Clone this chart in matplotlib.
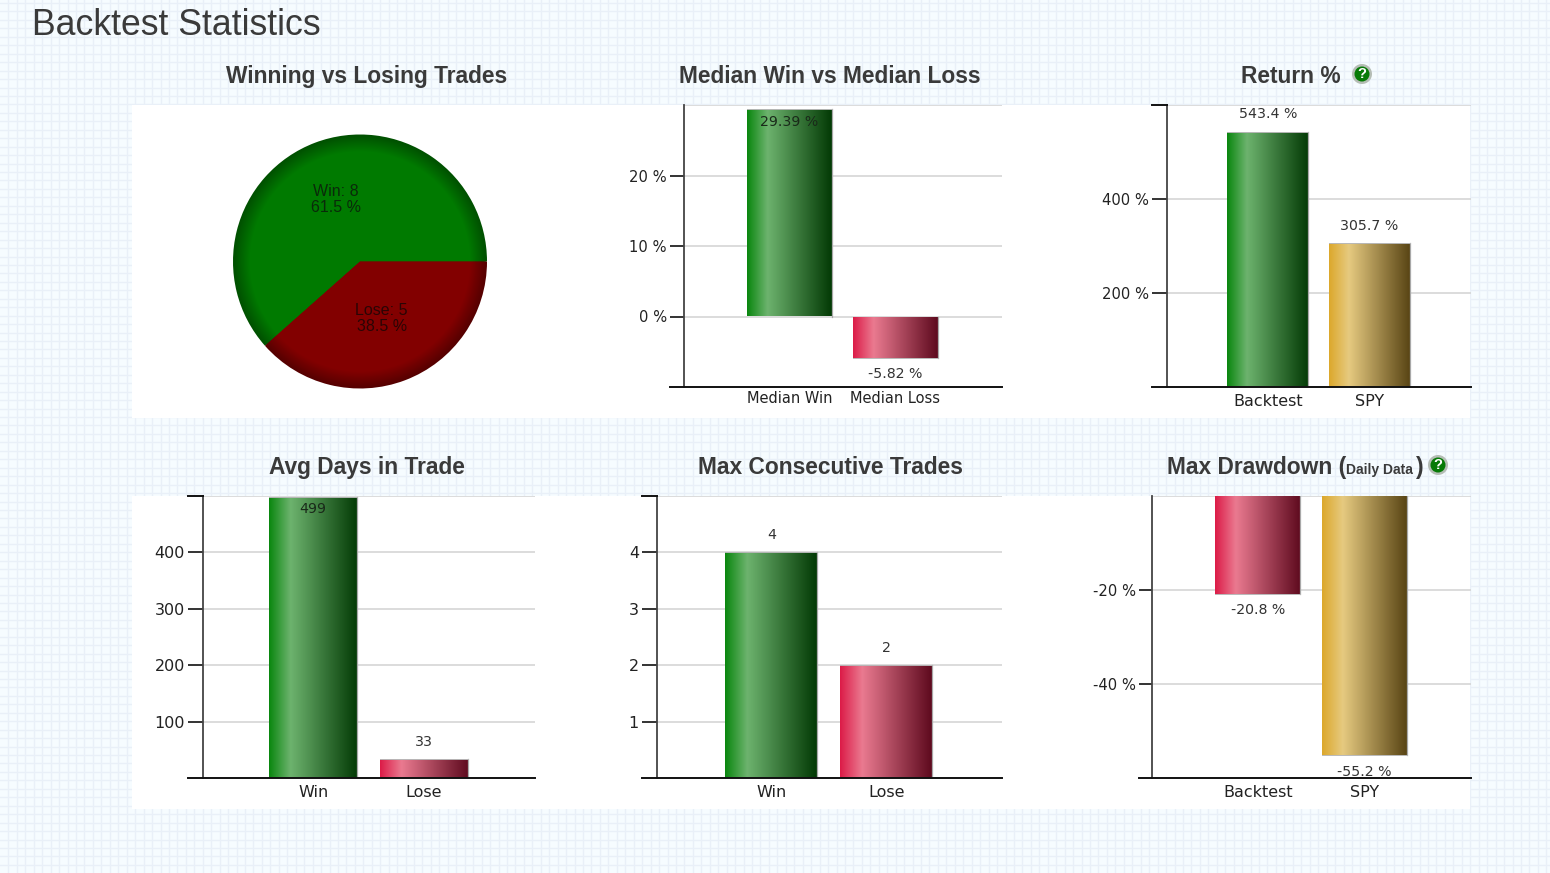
""" Backtest statistics dashboard
"""

import numpy as np
import matplotlib
matplotlib.use('Agg')
import matplotlib.pyplot as plt
from matplotlib.colors import LinearSegmentedColormap, to_rgb
from matplotlib.patches import Circle, Rectangle

W, H = 1550, 873
FONT = 'Liberation Sans'
TICK_FONT = 'DejaVu Sans'
TEXT_DARK = '#3a3a3a'

# Data
pie_labels = ['Win: 8\n61.5 %', 'Lose: 5\n38.5 %']
pie_values = [8, 5]

median_names = ['Median Win', 'Median Loss']
median_values = [29.39, -5.82]
median_labels = ['29.39 %', '-5.82 %']
median_ticks = [0, 10, 20]

return_names = ['Backtest', 'SPY']
return_values = [543.4, 305.7]
return_labels = ['543.4 %', '305.7 %']
return_ticks = [200, 400]

days_names = ['Win', 'Lose']
days_values = [499, 33]
days_labels = ['499', '33']
days_ticks = [100, 200, 300, 400]

consec_names = ['Win', 'Lose']
consec_values = [4, 2]
consec_labels = ['4', '2']
consec_ticks = [1, 2, 3, 4]

drawdown_names = ['Backtest', 'SPY']
drawdown_values = [-20.8, -55.2]
drawdown_labels = ['-20.8 %', '-55.2 %']
drawdown_ticks = [-40, -20]


def gradient(light, mid, dark):
    return LinearSegmentedColormap.from_list(
        'bar', [(0, light), (0.24, mid), (1, dark)])


GREEN = gradient('#0a870f', '#6db36e', '#033a05')
RED = gradient('#dc1c48', '#ea7a90', '#5e0a1e')
GOLD = gradient('#dca82c', '#e6ca80', '#574313')


def px_axes(fig, left, top, right, bottom):
    """ Axes from pixel box, y counted from the top of the image
    """
    return fig.add_axes([left / W, 1 - bottom / H, (right - left) / W, (bottom - top) / H])


def draw_bars(ax, names, values, labels, ticks, ylim, cmaps, pad, suffix='', inside=(),
              name_size=11.5, name_pad=5, top_tick=True):
    ramp = np.linspace(0, 1, 128).reshape(1, -1)
    ax.set_zorder(2)
    ax.patch.set_alpha(0)
    for i, v in enumerate(values):
        bar = ax.bar(i, v, width=0.8, color='none', zorder=3)[0]
        x0, x1 = i - 0.4, i + 0.4
        img = ax.imshow(ramp, cmap=cmaps[i], extent=[x0, x1, min(v, 0), max(v, 0)],
                        aspect='auto', zorder=2)
        img.set_clip_path(bar)
        ax.plot([x1, x1], [0, v], color='#a8a8a8', lw=0.9, zorder=3)
        ax.plot([x0, x1], [v, v], color='#b8b8b8', lw=0.7, zorder=3)
        # Value label
        if i in inside:
            ax.annotate(labels[i], (i, v), xytext=(0, -9), textcoords='offset points',
                        ha='center', va='center', fontsize=10.2, family=TICK_FONT,
                        color='#1a2a1a', zorder=5)
        else:
            off = 12.5 if v >= 0 else -12
            ax.annotate(labels[i], (i, v), xytext=(0, off), textcoords='offset points',
                        ha='center', va='center', fontsize=10.2, family=TICK_FONT,
                        color='#333333', zorder=5, annotation_clip=False)
    ax.set_xlim(-0.995, 2.005)
    ax.set_ylim(*ylim)
    ax.set_xticks(range(len(names)))
    ax.set_xticklabels(names, fontsize=name_size, family=TICK_FONT, color='#222222')
    ax.tick_params(axis='x', length=0, pad=name_pad)
    ax.set_yticks(ticks)
    ax.set_yticklabels(['%d%s' % (t, suffix) for t in ticks],
                       fontsize=10.6 if suffix else 11.5,
                       family=TICK_FONT, color='#222222')
    ax.tick_params(axis='y', length=pad * 0.72, width=1.2, color='#111111', pad=2.2)
    for s in ['top', 'right', 'bottom']:
        ax.spines[s].set_visible(False)
    ax.spines['left'].set_color('#444444')
    ax.spines['left'].set_linewidth(1.3)
    # Gridlines, top line and extended base line
    for t in list(ticks) + [ylim[1]]:
        ax.axhline(t, color='#d2d2d2', lw=1.1, zorder=1)
    trans = ax.get_yaxis_transform()
    px = pad / (ax.get_position().width * W)
    ax.plot([-px, 1], [ylim[0], ylim[0]], transform=trans, color='#111111', lw=1.4,
            clip_on=False, zorder=6)
    if top_tick:
        ax.plot([-px, 0], [ylim[1], ylim[1]], transform=trans, color='#111111', lw=1.4,
                clip_on=False, zorder=6)


fig = plt.figure(figsize=(W / 100, H / 100), dpi=100, facecolor='#f6fcff')

# Page background and white panels
bg = fig.add_axes([0, 0, 1, 1])
bg.set_xlim(0, W)
bg.set_ylim(H, 0)
bg.axis('off')
for x in np.arange(8.4, W, 8.45):
    bg.axvline(x, color='#e9f0f8', lw=1.0, zorder=0)
for y in np.arange(3, H, 8.45):
    bg.axhline(y, color='#e9f0f8', lw=1.0, zorder=0)
bg.add_patch(Rectangle((132, 105), 1338, 313, fc='white', ec='none', zorder=1))
bg.add_patch(Rectangle((132, 496), 1338, 313, fc='white', ec='none', zorder=1))

# Titles
bg.text(32, 35, 'Backtest Statistics', fontsize=25.7, family=FONT, color=TEXT_DARK,
        ha='left', va='baseline')
for cx, cy, t in [(366.5, 83, 'Winning vs Losing Trades'),
                  (830, 83, 'Median Win vs Median Loss'),
                  (1291, 83, 'Return %'),
                  (366.5, 474, 'Avg Days in Trade'),
                  (830, 474, 'Max Consecutive Trades')]:
    bg.text(cx, cy, t, fontsize=16.4, family=FONT, weight='bold', color=TEXT_DARK,
            ha='center', va='baseline')
bg.text(1167, 474, 'Max Drawdown (', fontsize=16.4, family=FONT, weight='bold',
        color=TEXT_DARK, ha='left', va='baseline')
bg.text(1346, 474, 'Daily Data', fontsize=10, family=FONT, weight='bold',
        color=TEXT_DARK, ha='left', va='baseline')
bg.text(1416, 474, ')', fontsize=16.4, family=FONT, weight='bold', color=TEXT_DARK,
        ha='left', va='baseline')

# Help icons
for cx, cy in [(1362, 74), (1438, 465)]:
    bg.add_patch(Circle((cx, cy), 10, fc='#b5bdb5', ec='none', zorder=2))
    bg.add_patch(Circle((cx, cy), 7.5, fc='#067a06', ec='none', zorder=3))
    bg.text(cx, cy, '?', fontsize=10.5, family=FONT, weight='bold', color='white',
            ha='center', va='center', zorder=4)

# Pie with a dark rim
pie_ax = px_axes(fig, 233, 134.5, 487, 388.5)
pie_ax.set_zorder(2)
rim = np.linspace(1.0, 0.86, 16)
for r in rim:
    shade = 0.66 + 0.34 * min(1, (1 - r) / 0.13)
    cols = [tuple(c * shade for c in to_rgb(h)) for h in ['#007a00', '#820000']]
    pie_ax.pie(pie_values, colors=cols, startangle=0, radius=r, counterclock=True)
pie_ax.set_xlim(-1, 1)
pie_ax.set_ylim(-1, 1)
pie_ax.text(-0.19, 0.49, pie_labels[0], fontsize=11.5, family=FONT, color='#0a2a0a',
            ha='center', va='center', linespacing=1.12)
pie_ax.text(0.17, -0.45, pie_labels[1], fontsize=11.5, family=FONT, color='#2a0505',
            ha='center', va='center', linespacing=1.12)

# Bar charts
ax = px_axes(fig, 684, 105, 1002, 387)
draw_bars(ax, median_names, median_values, median_labels, median_ticks, (-10, 30),
          [GREEN, RED], 14, ' %', inside=(0,), name_size=10.5, name_pad=3, top_tick=False)

ax = px_axes(fig, 1167, 105, 1471, 387)
draw_bars(ax, return_names, return_values, return_labels, return_ticks, (0, 600),
          [GREEN, GOLD], 15, ' %')

ax = px_axes(fig, 203, 496, 535, 778)
draw_bars(ax, days_names, days_values, days_labels, days_ticks, (0, 500),
          [GREEN, RED], 15, inside=(0,))

ax = px_axes(fig, 657, 496, 1002, 778)
draw_bars(ax, consec_names, consec_values, consec_labels, consec_ticks, (0, 5),
          [GREEN, RED], 15)

ax = px_axes(fig, 1152, 496, 1471, 778)
draw_bars(ax, drawdown_names, drawdown_values, drawdown_labels, drawdown_ticks, (-60, 0),
          [RED, GOLD], 13, ' %', top_tick=False)

fig.savefig('out.png', dpi=100, facecolor=fig.get_facecolor())
